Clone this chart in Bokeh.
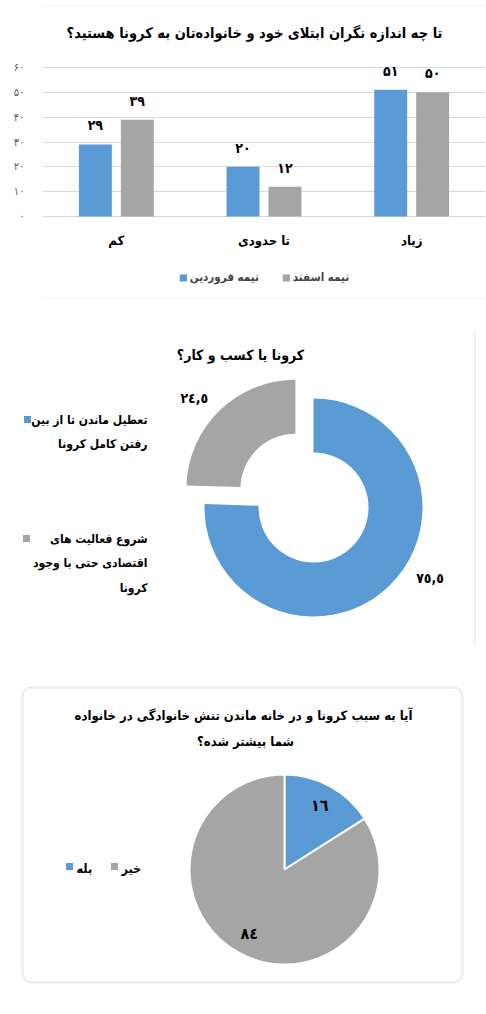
import numpy as np
from bokeh.plotting import figure
from bokeh.layouts import column
from bokeh.models import (Range1d, FactorRange, FixedTicker, Legend, LegendItem,
                          BoxAnnotation, ColumnDataSource)
from bokeh.transform import dodge
from bokeh.core.properties import value
from bokeh.embed import file_html
from bokeh.resources import INLINE

FONT = "DejaVu Sans Condensed, DejaVu Sans"
BLUE = "#5B9BD5"
GRAY = "#A5A5A5"

# ---------------- data ----------------
# chart 1: bar chart
concern_title = "تا چه اندازه نگران ابتلای خود و خانواده‌تان به کرونا هستید؟"
concern_categories = ["کم", "تا حدودی", "زیاد"]
series_names = ["نیمه فروردین", "نیمه اسفند"]
farvardin_values = [29, 20, 51]
esfand_values = [39, 12, 50]
y_ticks = [0, 10, 20, 30, 40, 50, 60]
y_tick_labels = ["۰", "۱۰", "۲۰", "۳۰", "۴۰", "۵۰", "۶۰"]

# chart 2: donut
business_title = "کرونا یا کسب و کار؟"
business_labels = ["تعطیل ماندن تا از بین\nرفتن کامل کرونا",
                   "شروع فعالیت های\nاقتصادی حتی با وجود\nکرونا"]
business_values = [75.5, 24.5]

# chart 3: pie
tension_title = "آیا به سبب کرونا و در خانه ماندن تنش خانوادگی در خانواده\nشما بیشتر شده؟"
tension_labels = ["بله", "خیر"]
tension_values = [16, 84]


def fa(s):
    return str(s).translate(str.maketrans("0123456789", "۰۱۲۳۴۵۶۷۸۹"))


def ar(s):
    return str(s).translate(str.maketrans("0123456789.", "٠١٢٣٤٥٦٧٨٩,"))


W = 486


def blank_fig(w, h):
    p = figure(frame_width=w, frame_height=h, x_range=Range1d(0, w), y_range=Range1d(0, h),
               x_axis_type=None, y_axis_type=None, title=None,
               output_backend="svg", toolbar_location=None,
               min_border_left=0, min_border_right=0, min_border_top=0, min_border_bottom=0)
    p.grid.visible = False
    p.outline_line_color = None
    p.frame_align = False
    return p


# ---------------- chart 1 ----------------
H1 = 300
LEFT1 = 42
FW1 = W - LEFT1 - 1
Y_TOP_PX, Y_ZERO_PX = 67, 216          # pixel rows of the 60 and 0 gridlines
ppu = (Y_ZERO_PX - Y_TOP_PX) / 60.0
y_lo = -(H1 - Y_ZERO_PX) / ppu
y_hi = 60 + Y_TOP_PX / ppu
cat_px = FW1 / len(concern_categories)

src1 = ColumnDataSource(dict(
    cat=concern_categories,
    farvardin=farvardin_values,
    esfand=esfand_values,
    farvardin_txt=[fa(v) for v in farvardin_values],
    esfand_txt=[fa(v) for v in esfand_values],
))

p1 = figure(frame_width=FW1, frame_height=H1,
            x_range=FactorRange(factors=concern_categories, range_padding=0),
            y_range=Range1d(y_lo, y_hi), output_backend="svg", toolbar_location=None,
            title=None,
            min_border_left=LEFT1, min_border_right=1, min_border_top=0, min_border_bottom=0)
p1.frame_align = False
p1.outline_line_color = None
p1.xgrid.visible = False
p1.ygrid.ticker = FixedTicker(ticks=y_ticks)
p1.ygrid.grid_line_color = "#D9D9D9"
p1.ygrid.grid_line_width = 1

# light chart-area border (top and left edges)
p1.add_layout(BoxAnnotation(left=2, right=W + 10, top=5, bottom=298,
                            left_units="canvas", right_units="canvas",
                            top_units="canvas", bottom_units="canvas",
                            fill_color=None, line_color="#D9D9D9", line_width=1))

off, bw = 0.142, 0.223
r_b = p1.vbar(x=dodge("cat", -off, range=p1.x_range), top="farvardin", width=bw,
              source=src1, fill_color=BLUE, line_color=None)
r_g = p1.vbar(x=dodge("cat", off, range=p1.x_range), top="esfand", width=bw,
              source=src1, fill_color=GRAY, line_color=None)
for d, col in ((-off, "farvardin"), (off, "esfand")):
    p1.text(x=dodge("cat", d, range=p1.x_range), y=col, text=col + "_txt", source=src1,
            text_align="center", text_baseline="middle", y_offset=-19,
            text_font=value(FONT), text_font_style="bold", text_font_size="14px",
            text_color="#000000")

# chart title (drawn inside the frame, above the plotting area)
p1.text(x=[(254 - LEFT1) / cat_px], y=[y_hi - 32 / ppu], text=[concern_title],
        text_align="center", text_baseline="middle", text_font=value(FONT),
        text_font_style="bold", text_font_size="14.5px", text_color="#000000")

p1.yaxis.ticker = FixedTicker(ticks=y_ticks)
p1.yaxis.major_label_overrides = {t: l for t, l in zip(y_ticks, y_tick_labels)}
p1.xaxis.fixed_location = 0
for ax in (p1.xaxis[0], p1.yaxis[0]):
    ax.axis_line_color = None
    ax.major_tick_line_color = None
    ax.minor_tick_line_color = None
    ax.major_tick_out = 0
    ax.minor_tick_out = 0
    ax.major_label_text_font = FONT
p1.yaxis.major_label_text_font_size = "11px"
p1.yaxis.major_label_text_color = "#595959"
p1.yaxis.major_label_standoff = 18
p1.xaxis.major_label_text_font_size = "13px"
p1.xaxis.major_label_text_font_style = "bold"
p1.xaxis.major_label_text_color = "#000000"
p1.xaxis.major_label_standoff = 16

legend1 = Legend(items=[LegendItem(label=value(series_names[0]), renderers=[r_b]),
                        LegendItem(label=value(series_names[1]), renderers=[r_g])],
                 orientation="horizontal", location="bottom_center",
                 label_text_font=FONT, label_text_font_style="bold",
                 label_text_font_size="11.5px",
                 glyph_width=9, glyph_height=9, label_height=9, label_standoff=3,
                 spacing=22, padding=0, margin=16, border_line_color=None,
                 background_fill_alpha=0)
p1.add_layout(legend1, "center")

# ---------------- chart 2 ----------------
H2 = 362
p2 = blank_fig(W, H2)

cx2, cy2, r_in, r_out = 313, 155, 55, 109
explode = [0, 26]
label_r2 = 136
label_ang2 = [-31, 138]
colors = [BLUE, GRAY]
frac2 = np.array(business_values) / np.sum(business_values)
ends = np.pi / 2 - 2 * np.pi * np.concatenate([[0], np.cumsum(frac2)[:-1]])
starts = ends - 2 * np.pi * frac2
mids = (starts + ends) / 2
wx = cx2 + np.array(explode) * np.cos(mids)
wy = cy2 + np.array(explode) * np.sin(mids)
p2.annular_wedge(x=wx, y=wy, inner_radius=r_in, outer_radius=r_out,
                 start_angle=starts, end_angle=ends, direction="anticlock",
                 fill_color=colors, line_color=None)
lx = wx + label_r2 * np.cos(np.radians(label_ang2))
ly = wy + label_r2 * np.sin(np.radians(label_ang2))
p2.text(x=lx, y=ly, text=[ar(v) for v in business_values], text_align="center",
        text_baseline="middle", text_font=value(FONT), text_font_style="bold",
        text_font_size="14px", text_color="#000000")

p2.text(x=[240], y=[308], text=[business_title], text_align="center", text_baseline="middle",
        text_font=value(FONT), text_font_style="bold", text_font_size="14px",
        text_color="#000000")

# legend (right-aligned Persian text, square markers on the left)
leg_top = [243, 124]
leg_sq_x = [27, 26]
leg_text_x = 147
line_gap = 24.5
tx, ty, tt = [], [], []
for lab, top in zip(business_labels, leg_top):
    for k, line in enumerate(lab.split("\n")):
        tx.append(leg_text_x)
        ty.append(top - k * line_gap)
        tt.append(line)
p2.scatter(x=leg_sq_x, y=leg_top, marker="square", size=7, fill_color=colors, line_color=None)
p2.text(x=tx, y=ty, text=tt, text_align="right", text_baseline="middle",
        text_font=value(FONT), text_font_style="bold", text_font_size="12px",
        text_color="#000000")
# thin right-hand edge of the chart area
p2.add_layout(BoxAnnotation(left=474, right=475, top=30, bottom=345,
                            left_units="canvas", right_units="canvas",
                            top_units="canvas", bottom_units="canvas",
                            fill_color="#E3E3E3", fill_alpha=1, line_color=None))

# ---------------- chart 3 ----------------
H3 = 350
p3 = blank_fig(W, H3)
p3.add_layout(BoxAnnotation(left=22, right=462, bottom=30, top=325, fill_color=None,
                            line_color="#C4C8CE", line_width=2.5, border_radius=9))

cx3, cy3, r3 = 284, 143, 95
label_r3 = 73
frac3 = np.array(tension_values) / np.sum(tension_values)
ends3 = np.pi / 2 - 2 * np.pi * np.concatenate([[0], np.cumsum(frac3)[:-1]])
starts3 = ends3 - 2 * np.pi * frac3
mids3 = (starts3 + ends3) / 2
p3.wedge(x=cx3, y=cy3, radius=r3, start_angle=starts3, end_angle=ends3,
         direction="anticlock", fill_color=colors, line_color="white", line_width=2)
p3.text(x=cx3 + label_r3 * np.cos(mids3), y=cy3 + label_r3 * np.sin(mids3),
        text=[ar(v) for v in tension_values], text_align="center", text_baseline="middle",
        text_font=value(FONT), text_font_style="bold", text_font_size="16px",
        text_color="#000000")

title_lines = tension_title.split("\n")
p3.text(x=[243, 245], y=[297, 271], text=title_lines, text_align="center",
        text_baseline="middle", text_font=value(FONT), text_font_style="bold",
        text_font_size="13px", text_color="#000000")

leg3_sq_x = [69, 114]
leg3_y = 146
p3.scatter(x=leg3_sq_x, y=[leg3_y] * 2, marker="square", size=7, fill_color=colors,
           line_color=None)
p3.text(x=[x + 7 for x in leg3_sq_x], y=[leg3_y - 2] * 2, text=tension_labels,
        text_align="left", text_baseline="middle", text_font=value(FONT),
        text_font_style="bold", text_font_size="12.5px", text_color="#000000")

layout = column(p1, p2, p3, spacing=0)
open("out.html", "w").write(file_html(layout, INLINE, "charts"))
